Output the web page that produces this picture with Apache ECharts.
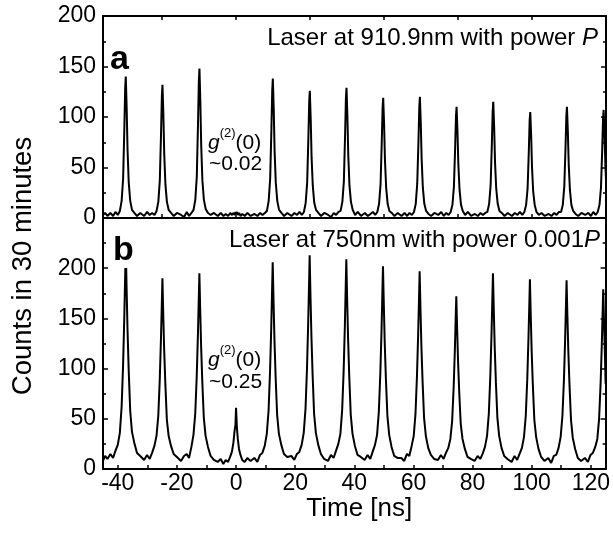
<!DOCTYPE html>
<html>
<head>
<meta charset="utf-8">
<title>Counts in 30 minutes</title>
<script src="https://cdn.jsdelivr.net/npm/echarts@6/dist/echarts.min.js"></script>
<style>
    html, body {margin: 0; padding: 0; background: #fff;}
    #chart {width: 613px; height: 535px;}
</style>
</head>
<body>
<div id="chart"></div>
<script>
// time bins [ns], shared by both panels (one line per peak)
const timeNs = [
    -45.0, -44.3,
    -43.5, -42.5, -41.6, -40.8, -40.0, -39.3, -38.7, -38.2, -37.8, -37.5, -37.3, -37.0, -36.7, -36.3, -35.8, -35.2, -34.4, -33.5, -32.4,
    -31.1, -30.1, -29.2, -28.4, -27.6, -26.9, -26.3, -25.8, -25.4, -25.1, -24.9, -24.6, -24.3, -23.9, -23.4, -22.8, -22.0, -21.1, -20.0,
    -18.6, -17.6, -16.7, -15.9, -15.1, -14.4, -13.8, -13.3, -12.9, -12.6, -12.4, -12.1, -11.8, -11.4, -10.9, -10.3, -9.5, -8.6, -7.5,
    -6.2, -5.2, -4.3, -3.5, -2.7, -2.0, -1.4, -0.9, -0.5, -0.2, 0.0, 0.3, 0.6, 1.0, 1.5, 2.1, 2.9, 3.8, 4.9,
    6.2, 7.2, 8.1, 8.9, 9.7, 10.4, 11.0, 11.5, 11.9, 12.2, 12.4, 12.7, 13.0, 13.4, 13.9, 14.5, 15.3, 16.2, 17.3,
    18.7, 19.7, 20.6, 21.4, 22.2, 22.9, 23.5, 24.0, 24.4, 24.7, 24.9, 25.2, 25.5, 25.9, 26.4, 27.0, 27.8, 28.7, 29.8,
    31.1, 32.1, 33.0, 33.8, 34.6, 35.3, 35.9, 36.4, 36.8, 37.1, 37.3, 37.6, 37.9, 38.3, 38.8, 39.4, 40.2, 41.1, 42.2,
    43.5, 44.5, 45.4, 46.2, 47.0, 47.7, 48.3, 48.8, 49.2, 49.5, 49.7, 50.0, 50.3, 50.7, 51.2, 51.8, 52.6, 53.5, 54.6,
    55.9, 56.9, 57.8, 58.6, 59.4, 60.1, 60.7, 61.2, 61.6, 61.9, 62.1, 62.4, 62.7, 63.1, 63.6, 64.2, 65.0, 65.9, 67.0,
    68.3, 69.3, 70.2, 71.0, 71.8, 72.5, 73.1, 73.6, 74.0, 74.3, 74.5, 74.8, 75.1, 75.5, 76.0, 76.6, 77.4, 78.3, 79.4,
    80.7, 81.7, 82.6, 83.4, 84.2, 84.9, 85.5, 86.0, 86.4, 86.7, 86.9, 87.2, 87.5, 87.9, 88.4, 89.0, 89.8, 90.7, 91.8,
    93.2, 94.2, 95.1, 95.9, 96.7, 97.4, 98.0, 98.5, 98.9, 99.2, 99.4, 99.7, 100.0, 100.4, 100.9, 101.5, 102.3, 103.2, 104.3,
    105.6, 106.6, 107.5, 108.3, 109.1, 109.8, 110.4, 110.9, 111.3, 111.6, 111.8, 112.1, 112.4, 112.8, 113.3, 113.9, 114.7, 115.6, 116.7,
    118.0, 119.0, 119.9, 120.7, 121.5, 122.2, 122.8, 123.3, 123.7, 124.0, 124.2, 124.5, 124.8, 125.0
];

// panel a: laser at 910.9nm, power P
const countsA = [
    3, 5,
    2, 5, 2, 6, 3, 7, 17, 39, 87, 129, 140, 109, 67, 35, 17, 8, 5, 2, 5,
    2, 6, 3, 5, 3, 7, 16, 37, 82, 121, 132, 103, 63, 33, 16, 8, 5, 2, 5,
    3, 1, 6, 2, 5, 8, 18, 41, 92, 136, 148, 115, 71, 37, 18, 9, 5, 3, 5,
    2, 5, 2, 4, 2, 5, 3, 5, 3, 6, 4, 6, 3, 5, 2, 4, 2, 5, 2,
    4, 2, 5, 3, 5, 7, 17, 39, 86, 127, 138, 108, 66, 35, 17, 8, 5, 2, 5,
    2, 5, 3, 6, 3, 6, 15, 35, 78, 116, 126, 98, 60, 32, 15, 8, 5, 2, 5,
    3, 1, 5, 3, 6, 7, 16, 36, 80, 119, 129, 101, 62, 32, 16, 8, 3, 6, 2,
    5, 2, 4, 6, 3, 6, 14, 33, 74, 109, 119, 93, 57, 30, 14, 7, 5, 2, 5,
    2, 5, 2, 5, 3, 6, 14, 34, 74, 110, 120, 94, 58, 30, 14, 7, 4, 2, 5,
    3, 6, 2, 5, 3, 6, 13, 31, 68, 101, 110, 86, 53, 28, 13, 7, 3, 6, 2,
    4, 2, 5, 3, 5, 6, 14, 32, 71, 106, 115, 90, 55, 29, 14, 7, 5, 2, 5,
    2, 5, 3, 6, 3, 6, 13, 29, 65, 97, 105, 82, 50, 26, 13, 6, 3, 5, 2,
    4, 2, 5, 3, 6, 6, 13, 31, 68, 101, 110, 86, 53, 28, 13, 7, 4, 2, 5,
    3, 5, 2, 6, 3, 6, 13, 30, 66, 98, 107, 83, 51, 38
];

// panel b: laser at 750nm, power 0.001P
const countsB = [
    8, 13,
    10, 15, 11, 18, 24, 36, 62, 104, 151, 193, 222, 178, 138, 98, 58, 37, 26, 16, 13,
    9, 14, 10, 16, 23, 33, 53, 89, 129, 165, 190, 152, 118, 84, 49, 33, 23, 15, 12,
    8, 13, 15, 11, 22, 34, 55, 92, 133, 170, 195, 156, 121, 86, 51, 33, 22, 13, 9,
    7, 10, 5, 9, 7, 12, 17, 26, 38, 44, 61, 41, 30, 20, 14, 9, 7, 11, 8,
    11, 7, 14, 16, 23, 35, 58, 97, 140, 179, 206, 165, 128, 91, 54, 35, 24, 15, 12,
    13, 9, 15, 17, 24, 36, 60, 100, 145, 185, 213, 170, 132, 94, 55, 36, 24, 15, 10,
    8, 14, 11, 18, 25, 35, 59, 98, 142, 182, 209, 167, 130, 92, 54, 35, 23, 14, 12,
    9, 14, 10, 17, 24, 34, 57, 95, 137, 176, 202, 162, 125, 89, 53, 34, 22, 13, 11,
    11, 8, 15, 13, 23, 33, 55, 93, 134, 171, 197, 158, 122, 87, 51, 33, 21, 14, 10,
    9, 14, 10, 16, 21, 30, 48, 81, 117, 150, 172, 138, 107, 76, 45, 30, 20, 12, 10,
    8, 13, 10, 15, 22, 33, 55, 92, 133, 170, 195, 156, 121, 86, 51, 33, 21, 13, 10,
    7, 13, 9, 15, 21, 32, 53, 89, 129, 164, 189, 151, 117, 83, 49, 32, 20, 12, 8,
    11, 6, 13, 14, 21, 32, 53, 88, 128, 164, 188, 150, 117, 83, 49, 31, 20, 11, 8,
    11, 7, 14, 16, 22, 30, 50, 84, 122, 156, 179, 143, 111, 85
];

// axis ticks
const timeLabels = [-40, -20, 0, 20, 40, 60, 80, 100, 120];
const timeTicks = [-40, -30, -20, -10, 0, 10, 20, 30, 40, 50, 60, 70, 80, 90, 100, 110, 120];
const frameTicks = [-25, 0, 25, 50, 75, 100];
const countLabelsB = [0, 50, 100, 150, 200];

const FONT = 'Liberation Sans, Arial, Helvetica, sans-serif';
const BLACK = '#000';

const chart = echarts.init(document.getElementById('chart'), null, {renderer: 'canvas'});

const frameLine = {show: true, onZero: false, lineStyle: {color: BLACK, width: 2}};
const tickStyle = {color: BLACK, width: 1.5};

const timeAxis = (gridIndex, position, extra) => Object.assign({
    type: 'value',
    gridIndex: gridIndex,
    position: position,
    min: -45,
    max: 125,
    axisLine: frameLine,
    axisTick: {show: true, inside: true, length: 4, customValues: frameTicks, lineStyle: tickStyle},
    axisLabel: {show: false},
    splitLine: {show: false}
}, extra);

const countAxis = (gridIndex, position, max, showLabel) => ({
    type: 'value',
    gridIndex: gridIndex,
    position: position,
    min: 0,
    max: max,
    interval: 50,
    axisLine: frameLine,
    axisTick: {show: true, inside: true, length: 5, lineStyle: tickStyle},
    minorTick: {show: true, splitNumber: 2, length: 3, lineStyle: tickStyle},
    axisLabel: {
        show: showLabel,
        customValues: max === 250 ? countLabelsB : undefined,
        color: BLACK,
        fontFamily: FONT,
        fontSize: 23,
        margin: 7
    },
    splitLine: {show: false},
    minorSplitLine: {show: false}
});

const lineSeries = (axisIndex, values) => ({
    type: 'line',
    xAxisIndex: axisIndex,
    yAxisIndex: axisIndex,
    data: timeNs.map((t, i) => [t, values[i]]),
    showSymbol: false,
    symbol: 'none',
    silent: true,
    clip: true,
    lineStyle: {color: BLACK, width: 2}
});

const textEl = (x, y, style, extra) => Object.assign({
    type: 'text',
    x: x,
    y: y,
    z: 100,
    style: Object.assign({fill: BLACK, textVerticalAlign: 'middle', verticalAlign: 'middle'}, style)
}, extra);

const gRich = {
    g: {fontFamily: FONT, fontSize: 21, fontStyle: 'italic', lineHeight: 27, verticalAlign: 'bottom'},
    s: {fontFamily: FONT, fontSize: 13, lineHeight: 14, verticalAlign: 'top'},
    n: {fontFamily: FONT, fontSize: 21, lineHeight: 27, verticalAlign: 'bottom'}
};
const pRich = {
    i: {fontFamily: FONT, fontSize: 24, fontStyle: 'italic'}
};

const option = {
    animation: false,
    backgroundColor: '#fff',
    grid: [
        {left: 103, right: 7, top: 16, height: 202},
        {left: 103, right: 7, top: 218, height: 251}
    ],
    xAxis: [
        timeAxis(0, 'bottom'),
        timeAxis(0, 'top'),
        timeAxis(1, 'bottom', {
            axisTick: {show: true, inside: true, length: 4, customValues: timeTicks, lineStyle: tickStyle},
            axisLabel: {show: true, customValues: timeLabels, color: BLACK, fontFamily: FONT, fontSize: 23, margin: 3},
            name: 'Time [ns]',
            nameLocation: 'middle',
            nameGap: 27,
            nameTextStyle: {color: BLACK, fontFamily: FONT, fontSize: 26, padding: [0, 0, 0, 10]}
        }),
        timeAxis(1, 'top', {axisTick: {show: false}})
    ],
    yAxis: [
        countAxis(0, 'left', 200, true),
        countAxis(0, 'right', 200, false),
        countAxis(1, 'left', 250, true),
        countAxis(1, 'right', 250, false)
    ],
    series: [
        lineSeries(0, countsA),
        lineSeries(2, countsB)
    ],
    graphic: [
        textEl(23, 266, {text: 'Counts in 30 minutes', font: '27.5px ' + FONT, textAlign: 'center', align: 'center'},
            {rotation: Math.PI / 2}),
        textEl(110, 60, {text: 'a', font: 'bold 34px ' + FONT, textAlign: 'left', align: 'left'}),
        textEl(111, 251, {text: 'b', font: 'bold 34px ' + FONT, textAlign: 'left', align: 'left',
            backgroundColor: '#fff', padding: [0, 2]}),
        textEl(598, 38, {text: 'Laser at 910.9nm with power {i|P}', font: '24px ' + FONT,
            textAlign: 'right', align: 'right', rich: pRich}),
        textEl(600, 240, {text: 'Laser at 750nm with power 0.001{i|P}', font: '24px ' + FONT,
            textAlign: 'right', align: 'right', rich: pRich}),
        textEl(208, 140, {text: '{g|g}{s|(2)}{n|(0)}', font: '21px ' + FONT, textAlign: 'left', align: 'left', rich: gRich}),
        textEl(209, 164, {text: '~0.02', font: '21px ' + FONT, textAlign: 'left', align: 'left'}),
        textEl(208, 357, {text: '{g|g}{s|(2)}{n|(0)}', font: '21px ' + FONT, textAlign: 'left', align: 'left', rich: gRich}),
        textEl(209, 382, {text: '~0.25', font: '21px ' + FONT, textAlign: 'left', align: 'left'})
    ]
};

chart.setOption(option);
</script>
</body>
</html>
